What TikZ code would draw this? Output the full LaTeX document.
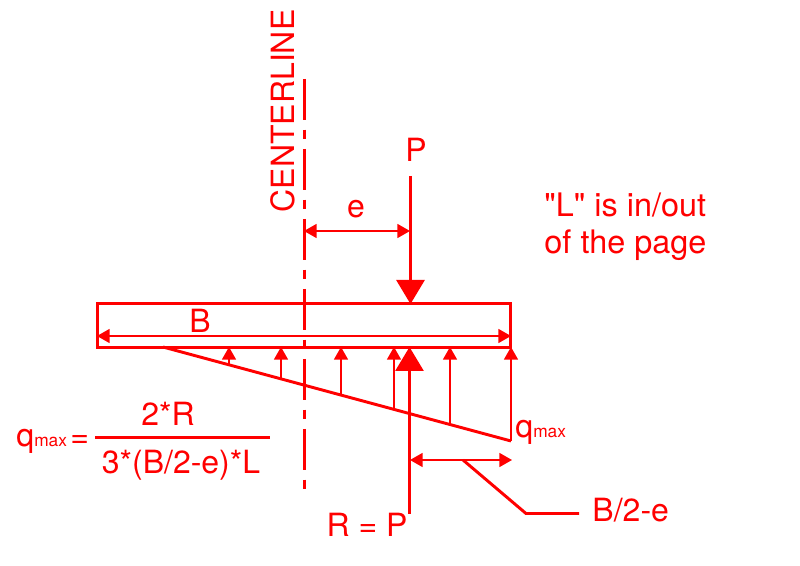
\documentclass[tikz,border=0pt]{standalone}
\usepackage{fontspec}
\newfontfamily\heros{TeX Gyre Heros}
\usetikzlibrary{arrows.meta}
\colorlet{loadc}{red}
\newcommand{\qmaxtext}{q{\fontsize{13}{13}\selectfont max}}
\tikzstyle{footing} = [
  x=0.75pt,
  y=-0.75pt,
  loadc,
  line width=2.2pt,
  every node/.style={inner sep=0pt, text=loadc, font=\heros\fontsize{24}{28}\selectfont},
  notetext/.style={font=\heros\fontsize{24.3}{29}\selectfont},
  thinline/.style={line width=1.3pt},
  smallhead/.style={-{Triangle[width=10.5pt,length=9.5pt]}},
  dimhead/.style={{Triangle[width=10.5pt,length=9.5pt]}-{Triangle[width=10.5pt,length=9.5pt]}},
  bighead/.style={-{Triangle[width=21pt,length=18pt]}},
]

\begin{document}
\begin{tikzpicture}[footing]
      \useasboundingbox (0,0) rectangle (800,566);

      % Footing
      \coordinate (BL) at (97.5,303.5);
      \coordinate (TR) at (510.5,347.5);
      \draw (BL) rectangle (TR);

      % Centerline
      \coordinate (CT) at (304.5,79);
      \coordinate (CB) at (304.5,490);
      \draw[dash pattern=on 30.5pt off 7.5pt on 7pt off 7.5pt] (CT) -- (CB);
      \node[rotate=90] (center) at (283,111) {CENTERLINE};

      % Load P
      \node[anchor=base] (P) at (416,162) {P};
      \coordinate (Ptop) at (410.5,176);
      \coordinate (Pbot) at (410.5,304);
      \draw[bighead] (Ptop) -- (Pbot);

      % Eccentricity
      \coordinate (eL) at (304,231);
      \coordinate (eR) at (410,231);
      \draw[thinline,dimhead] (eL) -- (eR);
      \node[anchor=base] (e) at (356,218) {e};

      % Width
      \coordinate (bL) at (97,336);
      \coordinate (bR) at (511,336);
      \draw[thinline,dimhead] (bL) -- (bR);
      \node[anchor=base] (B) at (200,333) {B};

      % Soil pressure
      \coordinate (qA) at (163,347);
      \coordinate (qB) at (511,441);
      \draw (qA) -- (qB);
      \foreach \x/\name in {229/a,281/b,341/c,394/d,450/e,511/f} {
        \coordinate (top\name) at (\x,347);
        \coordinate (low\name) at (\x,{347+(\x-163)*0.2701});
        \draw[thinline,smallhead] (low\name) -- (top\name);
      }
      \node[anchor=base west] (qright) at (514,438) {\qmaxtext};

      % Reaction
      \node[anchor=base east] (R) at (409,537) {R = P};
      \coordinate (Rbot) at (409.5,514);
      \coordinate (Rtop) at (409.5,347);
      \draw[bighead] (Rbot) -- (Rtop);

      % Lever arm
      \coordinate (aL) at (410,460);
      \coordinate (aR) at (512,460);
      \draw[thinline,dimhead] (aL) -- (aR);
      \coordinate (kink1) at (463,460);
      \coordinate (kink2) at (526,513.5);
      \coordinate (kink3) at (579,513.5);
      \draw (kink1) -- (kink2) -- (kink3);
      \node[anchor=base west] (arm) at (591,522) {B/2-e};

      % Formula
      \node[anchor=base west] (qleft) at (15,447) {\qmaxtext};
      \node[anchor=base west] (equals) at (69,448) {=};
      \coordinate (fracL) at (95,437.5);
      \coordinate (fracR) at (270,437.5);
      \draw (fracL) -- (fracR);
      \node[anchor=base] (num) at (168,426) {2*R};
      \node[anchor=base] (den) at (181,474) {3*(B/2-e)*L};

      % Note
      \node[anchor=base west,notetext] (note1) at (543,217) {"L" is in/out};
      \node[anchor=base west,notetext] (note2) at (543,254) {of the page};
    \end{tikzpicture}
\end{document}
